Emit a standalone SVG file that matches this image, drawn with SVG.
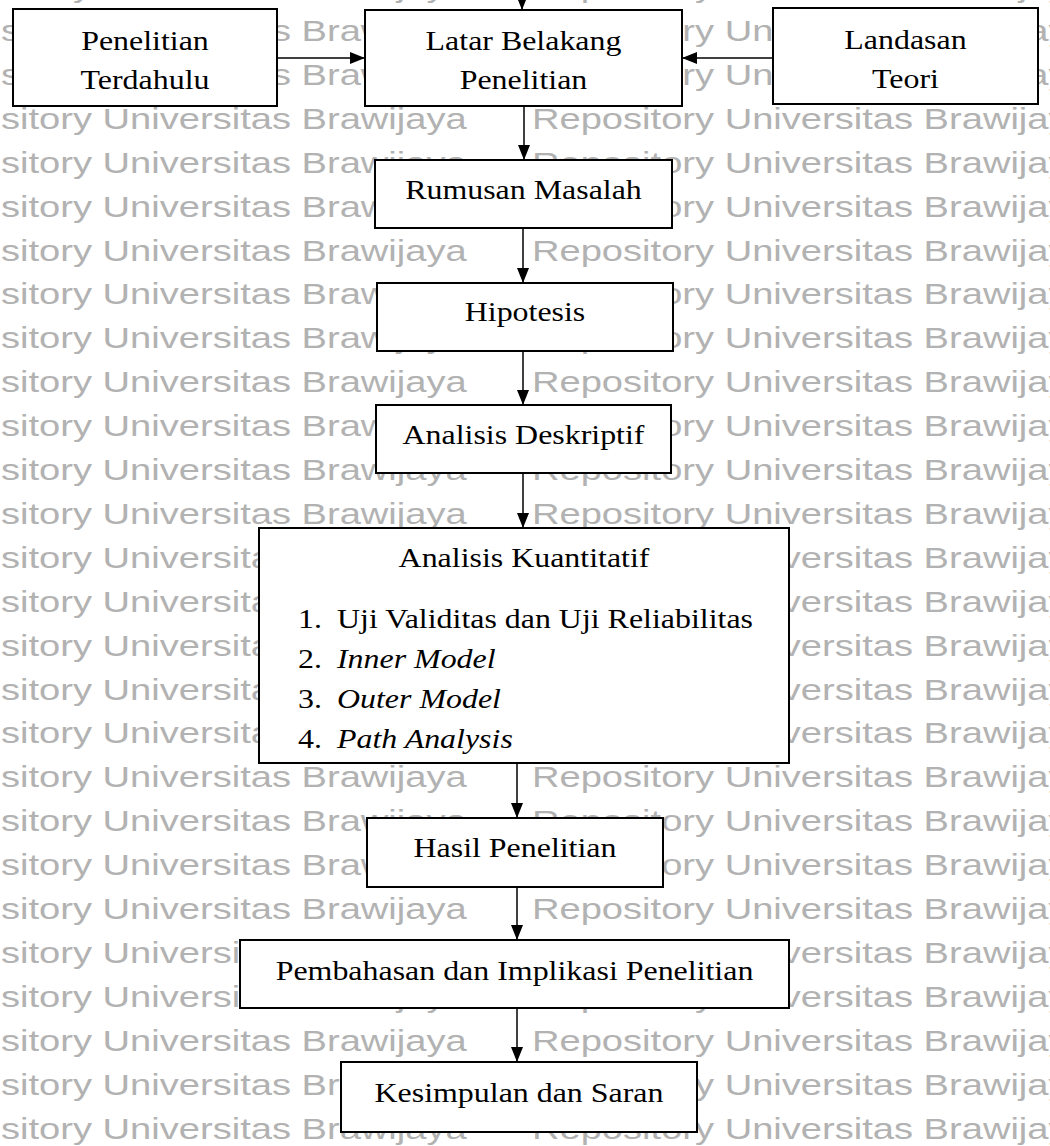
<svg xmlns="http://www.w3.org/2000/svg" xmlns:xlink="http://www.w3.org/1999/xlink" width="1050" height="1146" viewBox="0 0 1050 1146">
<style>
.wm{font-family:"Liberation Sans",Arial,sans-serif;font-size:30px;fill:#b2b2b2}
.box{fill:#fff;stroke:#000;stroke-width:2}
.t{font-family:"Liberation Serif","Times New Roman",serif;font-size:28px;fill:#000}
.c{text-anchor:middle}
.i{font-style:italic}
.conn line{stroke:#000;stroke-width:1.5;marker-end:url(#ah)}
</style>
<defs>
<marker id="ah" markerUnits="userSpaceOnUse" markerWidth="15" markerHeight="12" refX="15" refY="6" orient="auto">
<path d="M0,0 L15,6 L0,12 Z" fill="#000"/>
</marker>
<g id="wmrow" transform="scale(1.27,1)">
<text class="wm" x="-70.9" y="0">Repository Universitas Brawijaya</text>
<text class="wm" x="418.9" y="0">Repository Universitas Brawijaya</text>
</g>
</defs>
<rect x="0" y="0" width="1050" height="1146" fill="#fff"/>
<g id="watermark">
<use xlink:href="#wmrow" y="-2.9"/>
<use xlink:href="#wmrow" y="41"/>
<use xlink:href="#wmrow" y="84.9"/>
<use xlink:href="#wmrow" y="128.8"/>
<use xlink:href="#wmrow" y="172.7"/>
<use xlink:href="#wmrow" y="216.6"/>
<use xlink:href="#wmrow" y="260.5"/>
<use xlink:href="#wmrow" y="304.4"/>
<use xlink:href="#wmrow" y="348.3"/>
<use xlink:href="#wmrow" y="392.2"/>
<use xlink:href="#wmrow" y="436.1"/>
<use xlink:href="#wmrow" y="480"/>
<use xlink:href="#wmrow" y="523.9"/>
<use xlink:href="#wmrow" y="567.8"/>
<use xlink:href="#wmrow" y="611.7"/>
<use xlink:href="#wmrow" y="655.6"/>
<use xlink:href="#wmrow" y="699.5"/>
<use xlink:href="#wmrow" y="743.4"/>
<use xlink:href="#wmrow" y="787.3"/>
<use xlink:href="#wmrow" y="831.2"/>
<use xlink:href="#wmrow" y="875.1"/>
<use xlink:href="#wmrow" y="919"/>
<use xlink:href="#wmrow" y="962.9"/>
<use xlink:href="#wmrow" y="1006.8"/>
<use xlink:href="#wmrow" y="1050.7"/>
<use xlink:href="#wmrow" y="1094.6"/>
<use xlink:href="#wmrow" y="1138.5"/>
</g>
<g id="connectors" class="conn">
<line x1="522" y1="-20" x2="522" y2="10"/>
<line x1="277" y1="58" x2="365" y2="58"/>
<line x1="773" y1="58" x2="682" y2="58"/>
<line x1="524" y1="106" x2="524" y2="160"/>
<line x1="523" y1="228" x2="523" y2="283"/>
<line x1="523" y1="351" x2="523" y2="405"/>
<line x1="523" y1="473" x2="523" y2="528"/>
<line x1="517" y1="763" x2="517" y2="818"/>
<line x1="517" y1="887" x2="517" y2="940"/>
<line x1="517" y1="1008" x2="517" y2="1062"/>
</g>
<g id="penelitian-terdahulu">
<rect class="box" x="13" y="9" width="264" height="97"/>
<text class="t c" transform="translate(145,50) scale(1.14,1)">Penelitian</text>
<text class="t c" transform="translate(145,89) scale(1.14,1)">Terdahulu</text>
</g>
<g id="latar-belakang">
<rect class="box" x="365" y="10" width="317" height="96"/>
<text class="t c" transform="translate(523.5,50) scale(1.14,1)">Latar Belakang</text>
<text class="t c" transform="translate(523.5,89) scale(1.14,1)">Penelitian</text>
</g>
<g id="landasan-teori">
<rect class="box" x="773" y="8" width="265" height="96"/>
<text class="t c" transform="translate(905.5,49) scale(1.14,1)">Landasan</text>
<text class="t c" transform="translate(905.5,88) scale(1.14,1)">Teori</text>
</g>
<g id="rumusan-masalah">
<rect class="box" x="375" y="160" width="297" height="68"/>
<text class="t c" transform="translate(523.5,199) scale(1.14,1)">Rumusan Masalah</text>
</g>
<g id="hipotesis">
<rect class="box" x="377" y="283" width="296" height="68"/>
<text class="t c" transform="translate(525,321) scale(1.14,1)">Hipotesis</text>
</g>
<g id="analisis-deskriptif">
<rect class="box" x="376" y="405" width="295" height="68"/>
<text class="t c" transform="translate(523.5,444) scale(1.14,1)">Analisis Deskriptif</text>
</g>
<g id="analisis-kuantitatif">
<rect class="box" x="259" y="528" width="530" height="235"/>
<text class="t c" transform="translate(524,567) scale(1.14,1)">Analisis Kuantitatif</text>
<g transform="translate(298,628) scale(1.14,1)"><text class="t" x="0" y="0">1.</text><text class="t" x="34.2" y="0">Uji Validitas dan Uji Reliabilitas</text></g>
<g transform="translate(298,668) scale(1.14,1)"><text class="t" x="0" y="0">2.</text><text class="t i" x="34.2" y="0">Inner Model</text></g>
<g transform="translate(298,708) scale(1.14,1)"><text class="t" x="0" y="0">3.</text><text class="t i" x="34.2" y="0">Outer Model</text></g>
<g transform="translate(298,748) scale(1.14,1)"><text class="t" x="0" y="0">4.</text><text class="t i" x="34.2" y="0">Path Analysis</text></g>
</g>
<g id="hasil-penelitian">
<rect class="box" x="367" y="818" width="296" height="69"/>
<text class="t c" transform="translate(515,857) scale(1.14,1)">Hasil Penelitian</text>
</g>
<g id="pembahasan">
<rect class="box" x="240" y="940" width="549" height="68"/>
<text class="t c" transform="translate(514.5,980) scale(1.14,1)">Pembahasan dan Implikasi Penelitian</text>
</g>
<g id="kesimpulan">
<rect class="box" x="341" y="1062" width="356" height="70"/>
<text class="t c" transform="translate(519,1102) scale(1.14,1)">Kesimpulan dan Saran</text>
</g>
</svg>
